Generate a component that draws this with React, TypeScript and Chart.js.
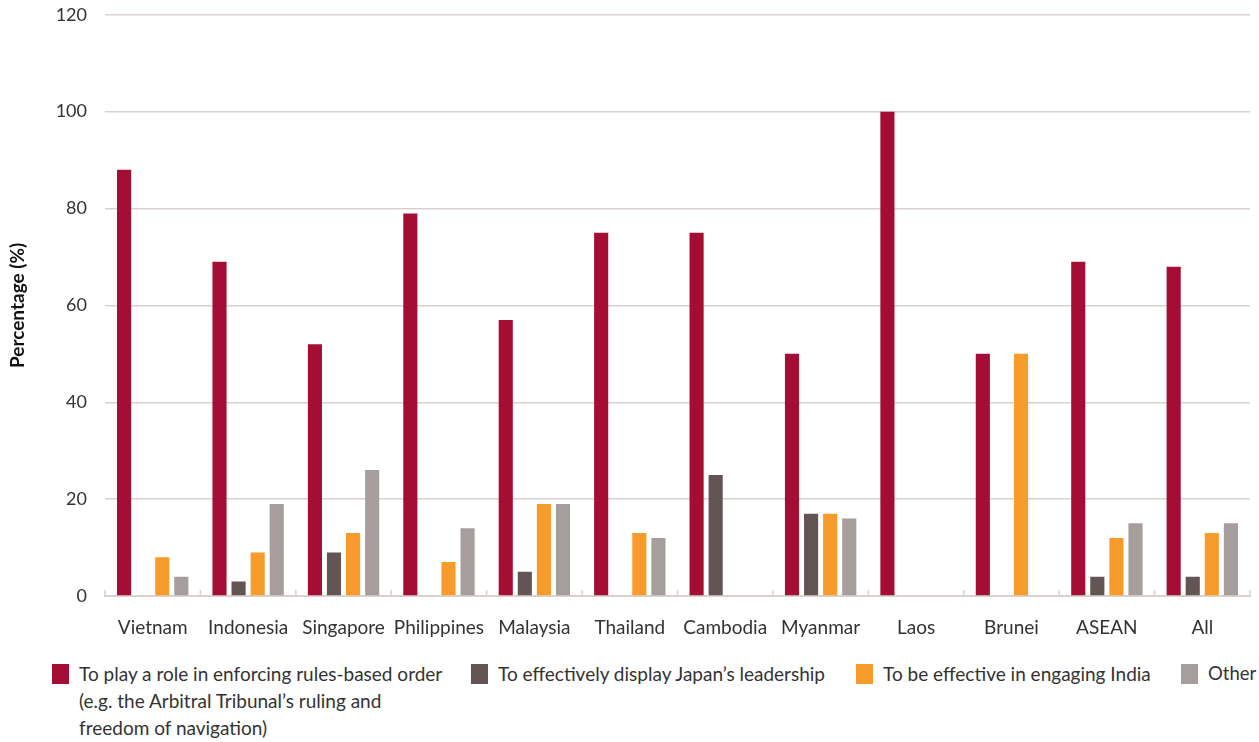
import React, { useEffect, useRef } from "react";
import { Chart, registerables } from "chart.js";

Chart.register(...registerables);

const categories = ["Vietnam", "Indonesia", "Singapore", "Philippines", "Malaysia", "Thailand", "Cambodia", "Myanmar", "Laos", "Brunei", "ASEAN", "All"];
const rulesOrder = [88, 69, 52, 79, 57, 75, 75, 50, 100, 50, 69, 68];
const leadership = [0, 3, 9, 0, 5, 0, 25, 17, 0, 0, 4, 4];
const india = [8, 9, 13, 7, 19, 13, 0, 17, 0, 50, 12, 13];
const other = [4, 19, 26, 14, 19, 12, 0, 16, 0, 0, 15, 15];

const seriesLabels = [
  ["To play a role in enforcing rules-based order", "(e.g. the Arbitral Tribunal\u2019s ruling and", "freedom of navigation)"],
  ["To effectively display Japan\u2019s leadership"],
  ["To be effective in engaging India"],
  ["Other"],
];
const seriesColors = ["#a50e34", "#635553", "#f79c2a", "#a69e9c"];
const yMin = 0;
const yMax = 120;
const yStep = 20;
const yTitle = "Percentage (%)";

const FONT = "Lato, 'Source Sans Pro', sans-serif";
const TEXT = "#333333";
const GRID = "#d9d1cd";

const innerTicks = {
  id: "innerTicks",
  afterDatasetsDraw(chart: any) {
    const x = chart.scales.x;
    const { ctx } = chart;
    const bottom = chart.chartArea.bottom;
    const n = categories.length;
    ctx.save();
    ctx.strokeStyle = GRID;
    ctx.lineWidth = 1.5;
    for (let i = 0; i <= n; i++) {
      const px = x.left + (i * x.width) / n;
      ctx.beginPath();
      ctx.moveTo(px, bottom - 6);
      ctx.lineTo(px, bottom);
      ctx.stroke();
    }
    ctx.restore();
  },
};

export default function App() {
  const ref = useRef<HTMLCanvasElement>(null);
  useEffect(() => {
    document.body.style.margin = "0";
    const values = [rulesOrder, leadership, india, other];
    const chart = new Chart(ref.current as HTMLCanvasElement, {
      type: "bar",
      data: {
        labels: categories,
        datasets: values.map((v, i) => ({
          label: seriesLabels[i].join(" "),
          data: v,
          backgroundColor: seriesColors[i],
          borderWidth: 0,
          categoryPercentage: 0.8,
          barPercentage: 0.74,
        })),
      },
      options: {
        responsive: false,
        animation: false,
        layout: { padding: { top: 0, right: 9, left: 0, bottom: 0 } },
        plugins: { legend: { display: false }, tooltip: { enabled: false } },
        scales: {
          x: {
            grid: { display: false },
            border: { display: true, color: GRID, width: 2 },
            ticks: { color: TEXT, font: { family: FONT, size: 19 }, padding: 12, maxRotation: 0 },
            afterFit: (s: any) => { s.height = 49; },
          },
          y: {
            min: yMin,
            max: yMax,
            ticks: { stepSize: yStep, color: TEXT, font: { family: FONT, size: 18 }, padding: 18 },
            grid: { color: (c: any) => (c.tick && c.tick.value === 0 ? "rgba(0,0,0,0)" : GRID), lineWidth: 1.5, drawTicks: false },
            border: { display: false },
            title: { display: true, text: yTitle, color: "#111", font: { family: FONT, size: 19, weight: "bold" }, padding: { top: 6, bottom: 0 } },
            afterFit: (s: any) => { s.width = 105; },
          },
        },
      },
      plugins: [innerTicks],
    });
    return () => chart.destroy();
  }, []);

  const legendX = [52, 471, 856, 1181];
  return (
    <div style={{ position: "relative", width: 1259, height: 742, background: "#fff", fontFamily: FONT, overflow: "hidden" }}>
      <canvas ref={ref} width={1259} height={659} style={{ position: "absolute", left: 0, top: -14, width: 1259, height: 659 }} />
      {seriesLabels.map((lines, i) => (
        <div key={i} style={{ position: "absolute", left: legendX[i], top: 660, display: "flex", alignItems: "flex-start" }}>
          <div style={{ width: 17, height: 20, background: seriesColors[i], marginTop: 4, marginRight: 10, flex: "none" }} />
          <div style={{ fontSize: i === 3 ? 18.5 : 19, lineHeight: "27px", color: TEXT, whiteSpace: "nowrap" }}>
            {lines.map((l, j) => (<div key={j}>{l}</div>))}
          </div>
        </div>
      ))}
    </div>
  );
}
